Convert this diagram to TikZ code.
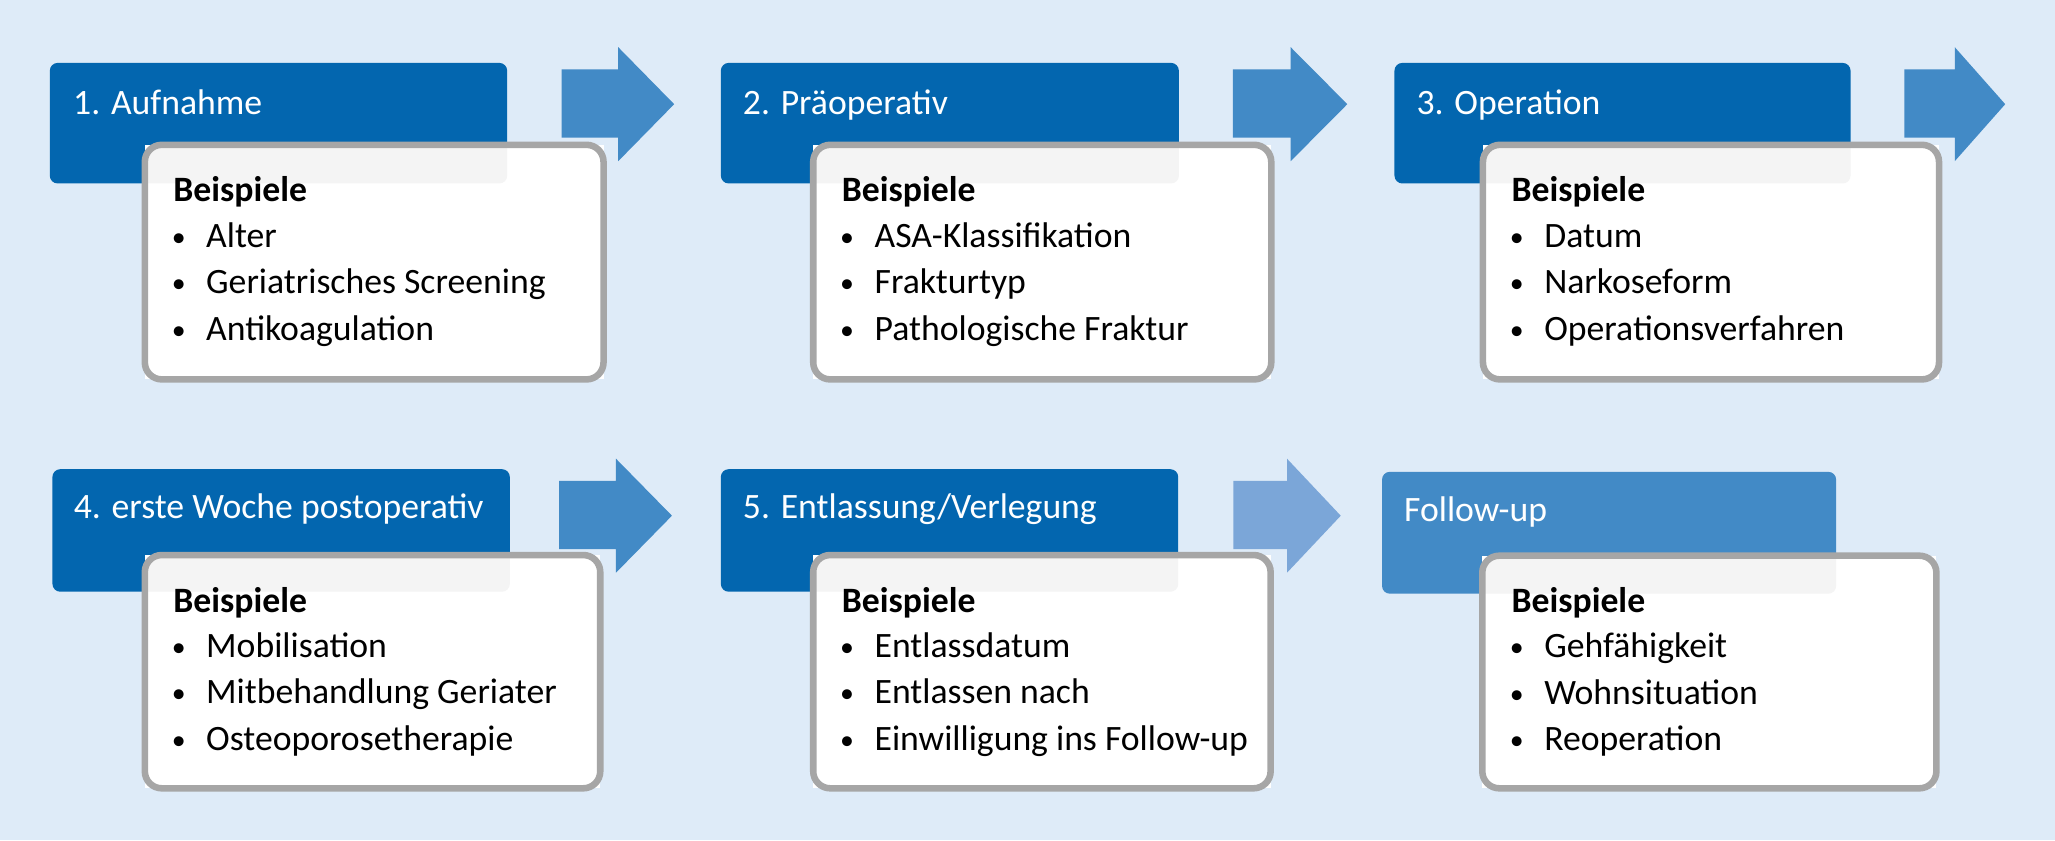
\documentclass[tikz,border=0pt]{standalone}
\usepackage{fontspec}
\setmainfont{Carlito}
\usepackage{tikz}
\usepackage{xcolor}
\definecolor{DunkelBlau}{HTML}{0366AF}
\definecolor{MittelBlau}{HTML}{428AC6}
\definecolor{HellBlau}{HTML}{7BA6D8}
\definecolor{Hintergrund}{HTML}{DEEBF8}
\definecolor{RandGrau}{HTML}{A6A6A6}
\definecolor{Schatten}{HTML}{F4F4F4}
\tikzset{
Kopf/.style={
 fill=DunkelBlau,
 rounded corners=0.12cm
 },
KopfHell/.style={
 fill=MittelBlau,
 rounded corners=0.12cm
 },
KopfSchatten/.style={
 fill=Schatten,
 rounded corners=0.12cm
 },
Kasten/.style={
 fill=white,
 draw=RandGrau,
 line width=0.1cm,
 rounded corners=0.26cm
 },
Pfeil/.style={
 fill=MittelBlau
 },
PfeilHell/.style={
 fill=HellBlau
 },
Titel/.style={
 anchor=base west,
 inner sep=0pt,
 text=white,
 font=\fontsize{15.5pt}{20pt}\selectfont
 },
Fett/.style={
 anchor=base west,
 inner sep=0pt,
 font=\fontsize{15.5pt}{20pt}\selectfont\bfseries
 },
Eintrag/.style={
 anchor=base west,
 inner sep=0pt,
 font=\fontsize{15.5pt}{20pt}\selectfont,
 execute at begin node={\makebox[0.5cm][l]{\makebox[0.16cm][c]{\raisebox{0.03em}{\scalebox{0.78}{\textbullet}}}}}
 }
}

\begin{document}
\begin{tikzpicture}[x=0.02cm,y=-0.02cm]
\useasboundingbox (0,0) rectangle (1568,641);
\fill[Hintergrund] (0,0) rectangle (1568,641);
% 1. Aufnahme
\fill[Kopf] (38,48) rectangle (387,140);
\fill[white] (110.5,110.5) rectangle (460.5,289.5);
\begin{scope}
\clip[rounded corners=0.26cm] (110.5,110.5) rectangle (460.5,289.5);
\fill[KopfSchatten] (38,48) rectangle (387,140);
\end{scope}
\draw[Kasten,fill=none] (110.5,110.5) rectangle (460.5,289.5);
\node[Titel] (t1) at (55.5,87) {1. Aufnahme};
\node[Fett] (b1) at (132,154) {Beispiele};
\node[Eintrag] (e11) at (132,188.6) {Alter};
\node[Eintrag] (e12) at (132,224) {Geriatrisches Screening};
\node[Eintrag] (e13) at (132,259.6) {Antikoagulation};
\fill[Pfeil] (428.5,53) -- (471.7,53) -- (471.7,36) -- (514.4,79.5) -- (471.7,123) -- (471.7,105) -- (428.5,105) -- cycle;
% 2. Praeoperativ
\fill[Kopf] (550,48) rectangle (899.5,140);
\fill[white] (620.5,110.5) rectangle (970,289.5);
\begin{scope}
\clip[rounded corners=0.26cm] (620.5,110.5) rectangle (970,289.5);
\fill[KopfSchatten] (550,48) rectangle (899.5,140);
\end{scope}
\draw[Kasten,fill=none] (620.5,110.5) rectangle (970,289.5);
\node[Titel] (t2) at (566.5,87) {2. Präoperativ};
\node[Fett] (b2) at (642,154) {Beispiele};
\node[Eintrag] (e21) at (642,188.6) {ASA-Klassifikation};
\node[Eintrag] (e22) at (642,224) {Frakturtyp};
\node[Eintrag] (e23) at (642,259.6) {Pathologische Fraktur};
\fill[Pfeil] (940.6,53) -- (984.8,53) -- (984.8,36) -- (1028,79.5) -- (984.8,123) -- (984.8,105) -- (940.6,105) -- cycle;
% 3. Operation
\fill[Kopf] (1064,48) rectangle (1412,140);
\fill[white] (1131.5,110.5) rectangle (1479.5,289.5);
\begin{scope}
\clip[rounded corners=0.26cm] (1131.5,110.5) rectangle (1479.5,289.5);
\fill[KopfSchatten] (1064,48) rectangle (1412,140);
\end{scope}
\draw[Kasten,fill=none] (1131.5,110.5) rectangle (1479.5,289.5);
\node[Titel] (t3) at (1080.5,87) {3. Operation};
\node[Fett] (b3) at (1153,154) {Beispiele};
\node[Eintrag] (e31) at (1153,188.6) {Datum};
\node[Eintrag] (e32) at (1153,224) {Narkoseform};
\node[Eintrag] (e33) at (1153,259.6) {Operationsverfahren};
\fill[Pfeil] (1453,53) -- (1491.5,53) -- (1491.5,36) -- (1530,79.5) -- (1491.5,123) -- (1491.5,105) -- (1453,105) -- cycle;
% 4. erste Woche postoperativ
\fill[Kopf] (40,358) rectangle (389,451.5);
\fill[white] (110.5,423.5) rectangle (458,601.5);
\begin{scope}
\clip[rounded corners=0.26cm] (110.5,423.5) rectangle (458,601.5);
\fill[KopfSchatten] (40,358) rectangle (389,451.5);
\end{scope}
\draw[Kasten,fill=none] (110.5,423.5) rectangle (458,601.5);
\node[Titel] (t4) at (56,396) {4. erste Woche postoperativ};
\node[Fett] (b4) at (132,467.5) {Beispiele};
\node[Eintrag] (e41) at (132,501.5) {Mobilisation};
\node[Eintrag] (e42) at (132,537) {Mitbehandlung Geriater};
\node[Eintrag] (e43) at (132,572.5) {Osteoporosetherapie};
\fill[Pfeil] (426.7,367) -- (470,367) -- (470,350) -- (512.7,393.5) -- (470,437) -- (470,419) -- (426.7,419) -- cycle;
% 5. Entlassung/Verlegung
\fill[Kopf] (550,358) rectangle (899,451.5);
\fill[white] (620.5,423.5) rectangle (969.5,601.5);
\begin{scope}
\clip[rounded corners=0.26cm] (620.5,423.5) rectangle (969.5,601.5);
\fill[KopfSchatten] (550,358) rectangle (899,451.5);
\end{scope}
\draw[Kasten,fill=none] (620.5,423.5) rectangle (969.5,601.5);
\node[Titel] (t5) at (566.5,396) {5. Entlassung/Verlegung};
\node[Fett] (b5) at (642,467.5) {Beispiele};
\node[Eintrag] (e51) at (642,501.5) {Entlassdatum};
\node[Eintrag] (e52) at (642,537) {Entlassen nach};
\node[Eintrag] (e53) at (642,572.5) {Einwilligung ins Follow-up};
\fill[PfeilHell] (941,367) -- (982,367) -- (982,350) -- (1023,393.5) -- (982,437) -- (982,419) -- (941,419) -- cycle;
% Follow-up
\fill[KopfHell] (1054.5,360) rectangle (1401,453);
\fill[white] (1131,424) rectangle (1477.5,601.5);
\begin{scope}
\clip[rounded corners=0.26cm] (1131,424) rectangle (1477.5,601.5);
\fill[KopfSchatten] (1054.5,360) rectangle (1401,453);
\end{scope}
\draw[Kasten,fill=none] (1131,424) rectangle (1477.5,601.5);
\node[Titel] (t6) at (1071,398) {Follow-up};
\node[Fett] (b6) at (1153,467.5) {Beispiele};
\node[Eintrag] (e61) at (1153,502) {Gehfähigkeit};
\node[Eintrag] (e62) at (1153,537.5) {Wohnsituation};
\node[Eintrag] (e63) at (1153,573) {Reoperation};
\end{tikzpicture}
\end{document}
